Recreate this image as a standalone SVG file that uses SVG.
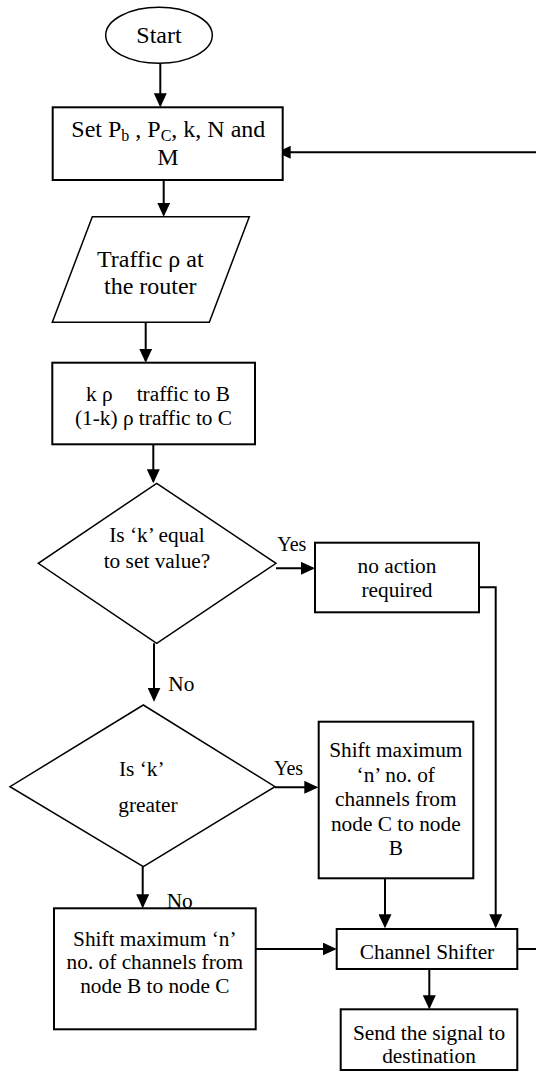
<svg xmlns="http://www.w3.org/2000/svg" width="536" height="1071" viewBox="0 0 536 1071">
<style>
text{font-family:"Liberation Serif","Times New Roman",serif;fill:#000;}
.t{font-size:21.33px;text-anchor:middle;}
.tl{font-size:24px;text-anchor:middle;}
.lab{font-size:21.33px;}
.yes{font-size:20px;}
.box{fill:#fff;stroke:#000;stroke-width:2;}
.thin{fill:#fff;stroke:#000;stroke-width:1.5;}
.con{fill:none;stroke:#000;stroke-width:2;marker-end:url(#ah);}
.plain{fill:none;stroke:#000;stroke-width:2;}
</style>
<defs>
<marker id="ah" markerUnits="userSpaceOnUse" markerWidth="14" markerHeight="13" refX="12" refY="6.5" orient="auto">
<path d="M0,0 L14,6.5 L0,13 z" fill="#000"/>
</marker>
</defs>
<g id="connectors">
<path class="con" d="M160.3,63.3 V105.3"/>
<path class="con" d="M517.3,949 H537 V152.3 H278.7"/>
<path class="con" d="M163.7,180 V214.7"/>
<path class="con" d="M145.7,322.3 V360.7"/>
<path class="con" d="M153.3,444.3 V481.3"/>
<path class="con" d="M276,568.3 H313"/>
<path class="con" d="M154,643.3 V699.7"/>
<path class="con" d="M472.3,587.3 H495.7 V926.3"/>
<path class="con" d="M275,787.3 H316.3"/>
<path class="con" d="M385,878.3 V926.3"/>
<path class="con" d="M142.7,866.7 V906.3"/>
<path class="con" d="M255.7,949 H334.7"/>
<path class="con" d="M429.3,969 V1007.3"/>
</g>
<g id="start">
<ellipse class="thin" cx="159" cy="35.3" rx="53.3" ry="28"/>
<text class="tl" x="159" y="43">Start</text>
</g>
<g id="set-params">
<rect class="box" x="52.7" y="107.3" width="230" height="72.7"/>
<text class="tl" x="168.3" y="137.3">Set P<tspan font-size="16" dy="4">b</tspan><tspan dy="-4"> , P</tspan><tspan font-size="16" dy="4">C</tspan><tspan dy="-4">, k, N and</tspan></text>
<text class="tl" x="168" y="165">M</text>
</g>
<g id="traffic">
<polygon class="thin" points="92.3,216.7 249.3,216.7 209.3,322.3 52.3,322.3"/>
<text class="tl" x="150.3" y="266.7">Traffic ρ at</text>
<text class="tl" x="150.3" y="294.3">the router</text>
</g>
<g id="split">
<rect class="box" x="52.3" y="362.7" width="202.7" height="81.6"/>
<text class="lab" x="86" y="401">k ρ</text>
<text class="lab" x="136.7" y="401">traffic to B</text>
<text class="t" x="153.5" y="425">(1-k) ρ traffic to C</text>
</g>
<g id="decision-equal">
<polygon class="thin" points="156.7,483.3 276,563.3 156.7,643.3 38.3,563.3"/>
<text class="t" x="157" y="542.3">Is ‘k’ equal</text>
<text class="t" x="157" y="567.7">to set value?</text>
</g>
<g id="no-action">
<rect class="box" x="315" y="542.7" width="164" height="69.6"/>
<text class="t" x="397" y="573.3">no action</text>
<text class="t" x="397" y="596.7">required</text>
</g>
<g id="decision-greater">
<polygon class="thin" points="143.3,705 275,786.7 143.3,866.7 10,786.7"/>
<text class="lab" x="119" y="776">Is ‘k’</text>
<text class="lab" x="118.3" y="811.7">greater</text>
</g>
<g id="shift-c-to-b">
<rect class="box" x="318.7" y="721.7" width="154.6" height="156.6"/>
<text class="t" x="395.8" y="757">Shift maximum</text>
<text class="t" x="395.8" y="781.5">‘n’ no. of</text>
<text class="t" x="395.8" y="806">channels from</text>
<text class="t" x="395.8" y="830.5">node C to node</text>
<text class="t" x="395.8" y="855">B</text>
</g>
<g id="shift-b-to-c">
<rect class="box" x="54" y="908.3" width="201.7" height="121"/>
<text class="t" x="154.8" y="945.7">Shift maximum ‘n’</text>
<text class="t" x="154.8" y="969.3">no. of channels from</text>
<text class="t" x="154.8" y="993.3">node B to node C</text>
</g>
<g id="channel-shifter">
<rect class="box" x="336.7" y="929" width="180.6" height="40"/>
<text class="t" x="427" y="959.3">Channel Shifter</text>
</g>
<g id="send">
<rect class="box" x="340.7" y="1009.3" width="176.6" height="60.7"/>
<text class="t" x="429" y="1040">Send the signal to</text>
<text class="t" x="429" y="1063.3">destination</text>
</g>
<g id="labels">
<text class="yes" x="277.3" y="550.7">Yes</text>
<text class="lab" x="168.3" y="690.7">No</text>
<text class="yes" x="274" y="775">Yes</text>
<text class="lab" x="166.7" y="907.7">No</text>
</g>
</svg>
